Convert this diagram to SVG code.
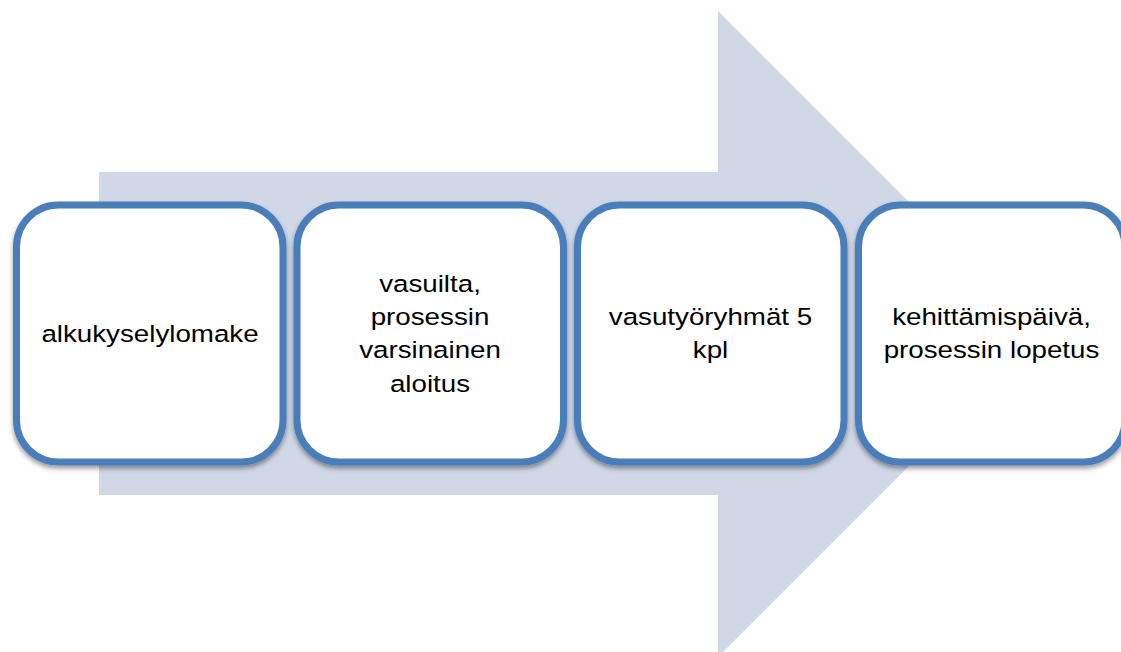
<svg xmlns="http://www.w3.org/2000/svg" width="1121" height="652" viewBox="0 0 1121 652">
<defs>
<filter id="sh" x="-10%" y="-10%" width="120%" height="125%">
<feDropShadow dx="0" dy="3" stdDeviation="2.5" flood-color="#000" flood-opacity="0.4"/>
</filter>
<style>
.box{fill:#fff;stroke:#4a7ebb;stroke-width:7;filter:url(#sh)}
.t{font-family:"Liberation Sans",Arial,sans-serif;font-size:23.5px;fill:#000;text-anchor:middle}
</style>
</defs>
<rect width="1121" height="652" fill="#fff"/>
<g id="arrow">
<polygon points="99,172 718,172 718,11 1041,334 718,657 718,495 99,495" fill="#d0d8e8"/>
</g>
<g id="connectors"/>
<g id="node1">
<rect class="box" x="16.5" y="205" width="266.5" height="257" rx="42"/>
<text class="t" transform="translate(150,341.7) scale(1.18,1)">alkukyselylomake</text>
</g>
<g id="node2">
<rect class="box" x="297" y="205" width="266.5" height="257" rx="42"/>
<g transform="translate(430,0)">
<text class="t" transform="translate(0,291.7) scale(1.18,1)">vasuilta,</text>
<text class="t" transform="translate(0,325) scale(1.18,1)">prosessin</text>
<text class="t" transform="translate(0,358.3) scale(1.18,1)">varsinainen</text>
<text class="t" transform="translate(0,391.7) scale(1.18,1)">aloitus</text>
</g>
</g>
<g id="node3">
<rect class="box" x="577.5" y="205" width="266.5" height="257" rx="42"/>
<text class="t" transform="translate(710.5,325) scale(1.18,1)">vasutyöryhmät 5</text>
<text class="t" transform="translate(710.5,358.3) scale(1.18,1)">kpl</text>
</g>
<g id="node4">
<rect class="box" x="858.5" y="205" width="266.5" height="257" rx="42"/>
<text class="t" transform="translate(991.5,325) scale(1.18,1)">kehittämispäivä,</text>
<text class="t" transform="translate(991.5,358.3) scale(1.18,1)">prosessin lopetus</text>
</g>
</svg>
